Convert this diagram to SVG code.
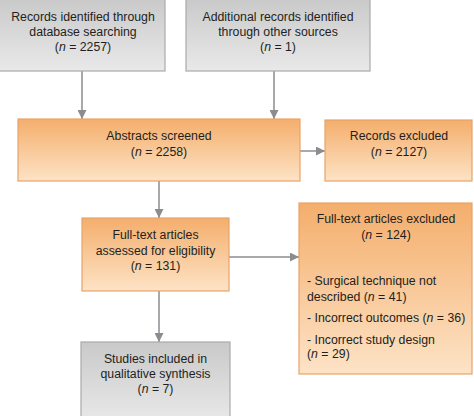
<svg xmlns="http://www.w3.org/2000/svg" width="474" height="416" viewBox="0 0 474 416">
<defs>
<linearGradient id="gGray" x1="0" y1="0" x2="0" y2="1">
<stop offset="0" stop-color="#c9c9ca"/>
<stop offset="1" stop-color="#e9e9ea"/>
</linearGradient>
<linearGradient id="gOrange" x1="0" y1="0" x2="0" y2="1">
<stop offset="0" stop-color="#f4ae6c"/>
<stop offset="1" stop-color="#fde3c6"/>
</linearGradient>
<marker id="arr" viewBox="0 0 10 10" refX="10" refY="5" markerWidth="9" markerHeight="9" markerUnits="userSpaceOnUse" orient="auto">
<path d="M0,0 L10,5 L0,10 Z" fill="#8a8c90"/>
</marker>
</defs>
<style>
.gray{fill:url(#gGray);stroke:#a9aaac;stroke-width:1.2}
.orange{fill:url(#gOrange);stroke:#e9a268;stroke-width:1.2}
text{font-family:"Liberation Sans",Arial,sans-serif;font-size:12.3px;fill:#231f20}
.c{text-anchor:middle}
.conn{stroke:#8a8c90;stroke-width:1.5;fill:none}
</style>
<g id="connectors">
<line class="conn" x1="82" y1="71" x2="82" y2="119" marker-end="url(#arr)"/>
<line class="conn" x1="274" y1="71" x2="274" y2="119" marker-end="url(#arr)"/>
<line class="conn" x1="300" y1="151" x2="325" y2="151" marker-end="url(#arr)"/>
<line class="conn" x1="159" y1="181" x2="159" y2="218" marker-end="url(#arr)"/>
<line class="conn" x1="229" y1="257" x2="299" y2="257" marker-end="url(#arr)"/>
<line class="conn" x1="159" y1="291" x2="159" y2="342" marker-end="url(#arr)"/>
</g>
<g id="records-db">
<rect class="gray" x="-2" y="-2" width="167" height="73"/>
<text class="c" x="83" y="21">Records identified through</text>
<text class="c" x="83" y="36">database searching</text>
<text class="c" x="83" y="51">(<tspan font-style="italic">n</tspan> = 2257)</text>
</g>
<g id="records-other">
<rect class="gray" x="186" y="-2" width="184" height="73"/>
<text class="c" x="278" y="21">Additional records identified</text>
<text class="c" x="278" y="36">through other sources</text>
<text class="c" x="278" y="51">(<tspan font-style="italic">n</tspan> = 1)</text>
</g>
<g id="abstracts">
<rect class="orange" x="18" y="119" width="282" height="62"/>
<text class="c" x="159" y="140">Abstracts screened</text>
<text class="c" x="159" y="156">(<tspan font-style="italic">n</tspan> = 2258)</text>
</g>
<g id="records-excluded">
<rect class="orange" x="325" y="120" width="147" height="61"/>
<text class="c" x="399" y="140">Records excluded</text>
<text class="c" x="399" y="156">(<tspan font-style="italic">n</tspan> = 2127)</text>
</g>
<g id="fulltext">
<rect class="orange" x="82" y="218" width="147" height="73"/>
<text class="c" x="155.5" y="239">Full-text articles</text>
<text class="c" x="155.5" y="255">assessed for eligibility</text>
<text class="c" x="155.5" y="270">(<tspan font-style="italic">n</tspan> = 131)</text>
</g>
<g id="fulltext-excluded">
<rect class="orange" x="299" y="203" width="173" height="171"/>
<text class="c" x="386" y="223">Full-text articles excluded</text>
<text class="c" x="386" y="239">(<tspan font-style="italic">n</tspan> = 124)</text>
<text x="307" y="285">- Surgical technique not</text>
<text x="307" y="301">described (<tspan font-style="italic">n</tspan> = 41)</text>
<text x="307" y="322">- Incorrect outcomes (<tspan font-style="italic">n</tspan> = 36)</text>
<text x="307" y="344">- Incorrect study design</text>
<text x="307" y="358">(<tspan font-style="italic">n</tspan> = 29)</text>
</g>
<g id="studies-included">
<rect class="gray" x="81" y="342" width="149" height="80"/>
<text class="c" x="155.5" y="363">Studies included in</text>
<text class="c" x="155.5" y="378">qualitative synthesis</text>
<text class="c" x="155.5" y="393">(<tspan font-style="italic">n</tspan> = 7)</text>
</g>
</svg>
